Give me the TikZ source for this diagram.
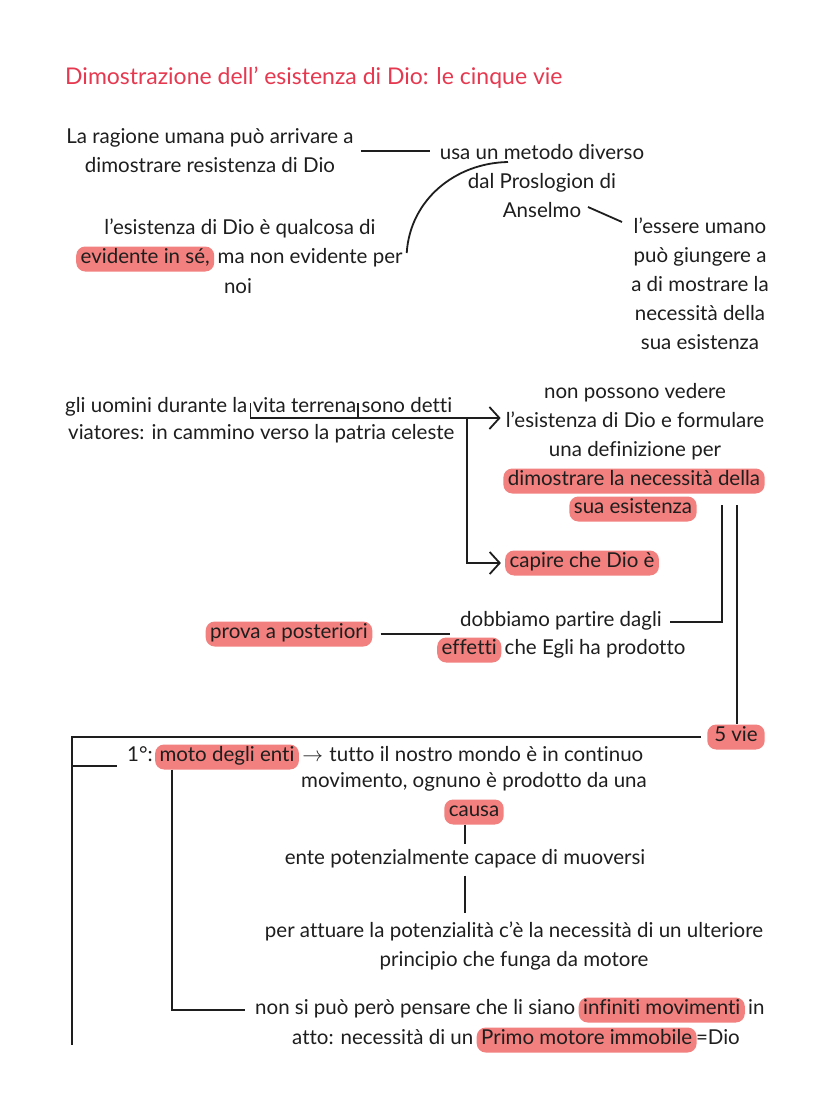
\documentclass[tikz,border=0pt]{standalone}
\usepackage{fontspec}
\setmainfont{Lato}[Ligatures=NoCommon]
\usetikzlibrary{arrows.meta}
\definecolor{hlc}{HTML}{F2807E}
\definecolor{titlec}{HTML}{E63950}
\definecolor{ink}{HTML}{1E1E1E}
\newcommand\bodyfont{\fontsize{20.5}{29}\selectfont}
\begin{document}
\begin{tikzpicture}[x=1pt,y=-1pt,
  txt/.style={font=\bodyfont, text=ink, inner sep=0pt, text height=13pt, text depth=4pt},
  hl/.style={txt, fill=hlc, rounded corners=9pt, inner xsep=4.5pt, inner ysep=4pt},
  blk/.style={font=\bodyfont, text=ink, inner sep=0pt, align=center},
  ln/.style={draw=ink, line width=1.8pt},
  arr/.style={-{Straight Barb[length=10pt,width=22pt]}}]
\useasboundingbox[fill=white] (0,0) rectangle (828,1103);

\node[anchor=base west, font=\fontsize{23}{26}\selectfont, text=titlec, inner sep=0pt] (title) at (65,84) {Dimostrazione dell' esistenza di Dio: le cinque vie};

% top section
\node[blk] (A) at (210,151) {La ragione umana può arrivare a\\dimostrare resistenza di Dio};
\node[blk] (B) at (542,181) {usa un metodo diverso\\dal Proslogion di\\Anselmo};
\node[blk] (C) at (700,284) {l'essere umano\\può giungere a\\a di mostrare la\\necessità della\\sua esistenza};
\node[txt] (D1) at (240,230) {l'esistenza di Dio è qualcosa di};
\node[hl, anchor=west] (D2a) at (76,259) {evidente in sé,};
\node[txt, anchor=west] (D2b) at ([xshift=3pt]D2a.east) {ma non evidente per};
\node[txt] (D3) at (238,289) {noi};

\draw[ln] ([xshift=7pt]A.east) -- ([xshift=-10pt]A.east -| B.west);
\coordinate (cs) at (508,162);
\draw[ln] (cs) .. controls (455,163) and (410,200) .. ([xshift=4pt,yshift=6pt]D2b.east);
\coordinate (an1) at (588,207);
\coordinate (an2) at (622,222);
\draw[ln] (an1) -- (an2);

% viatores
\node[txt, anchor=west] (E1a) at (65,408) {gli uomini durante la};
\node[txt, anchor=west] (E1b) at ([xshift=5pt]E1a.east) {vita terrena};
\node[txt, anchor=west] (E1c) at ([xshift=5pt]E1b.east) {sono detti};
\node[txt, anchor=west] (E2) at (68,435) {viatores: in cammino verso la patria celeste};

\node[blk] (F) at (635,422) {non possono vedere\\l'esistenza di Dio e formulare\\una definizione per};
\node[hl] (F4) at (634,481) {dimostrare la necessità della};
\node[hl] (F5) at (633,509) {sua esistenza};
\node[hl] (G) at (582,563) {capire che Dio è};

\coordinate (tl) at ([xshift=-2pt]E1b.west);
\coordinate (tlt) at ([yshift=5pt]tl);
\coordinate (tlb) at ([yshift=-10pt]tl);
\coordinate (tr) at ([xshift=2pt]E1b.east);
\coordinate (trt) at ([yshift=5pt]tr);
\coordinate (trb) at ([yshift=-10pt]tr);
\coordinate (ftip) at ([xshift=-5pt]F.west);
\coordinate (vj) at (467,0);
\draw[ln, arr] (tlt) -- (tlb) -- (ftip |- tlb);
\draw[ln] (trt) -- (trb);
\draw[ln, arr] (vj |- tlb) |- ([xshift=-4pt]G.west);

% a posteriori
\node[txt] (H1) at (561,622) {dobbiamo partire dagli};
\node[hl, anchor=west] (H2a) at (437,650) {effetti};
\node[txt, anchor=west] (H2b) at ([xshift=3pt]H2a.east) {che Egli ha prodotto};
\node[hl] (P) at (289,634) {prova a posteriori};
\draw[ln] ([xshift=8pt]P.east) -- ([xshift=-10pt]P.east -| H1.west);

\node[hl, inner xsep=7pt] (V) at (736,737) {5 vie};
\coordinate (v1) at (722,505);
\coordinate (v2) at (737,505);
\draw[ln] (v1) |- ([xshift=8pt]H1.east);
\draw[ln] (v2) -- (v2 |- V.north);

% prima via
\node[txt, anchor=west] (I0) at (127,757) {1°:};
\node[hl, anchor=west] (I1) at ([xshift=2pt]I0.east) {moto degli enti};
\node[txt, anchor=west] (I2) at ([xshift=3pt]I1.east) {$\rightarrow$};
\node[txt, anchor=west] (I3) at ([xshift=6pt]I2.east) {tutto il nostro mondo è in continuo};
\node[txt] (J) at (474,783) {movimento, ognuno è prodotto da una};
\node[hl] (K) at (474,812) {causa};
\node[txt] (M) at (465,860) {ente potenzialmente capace di muoversi};
\node[blk] (N) at (514,946) {per attuare la potenzialità c'è la necessità di un ulteriore\\principio che funga da motore};
\node[txt, anchor=west] (O1a) at (255,1010) {non si può però pensare che li siano};
\node[hl, anchor=west] (O1b) at ([xshift=3pt]O1a.east) {infiniti movimenti};
\node[txt, anchor=west] (O1c) at ([xshift=3pt]O1b.east) {in};
\node[txt, anchor=west] (O2a) at (292,1040) {atto: necessità di un};
\node[hl, anchor=west] (O2b) at ([xshift=3pt]O2a.east) {Primo motore immobile};
\node[txt, anchor=west] (O2c) at ([xshift=-1pt]O2b.east) {=Dio};

\coordinate (lx) at (72,1045);
\coordinate (b1) at ([xshift=-10pt,yshift=-9pt]I0.west);
\coordinate (mx) at (172,0);
\draw[ln] ([xshift=-6pt]V.west) -- (V.west -| lx) -- (lx);
\draw[ln] (lx |- b1) -- (b1);
\draw[ln] (M.north |- K.south) -- ([yshift=7pt]M.north);
\draw[ln, shorten >=9pt] ([yshift=-7pt]M.south) -- (M.south |- N.north);
\draw[ln] (mx |- I1.south) |- ([xshift=-10pt]O1a.west);
\end{tikzpicture}
\end{document}
